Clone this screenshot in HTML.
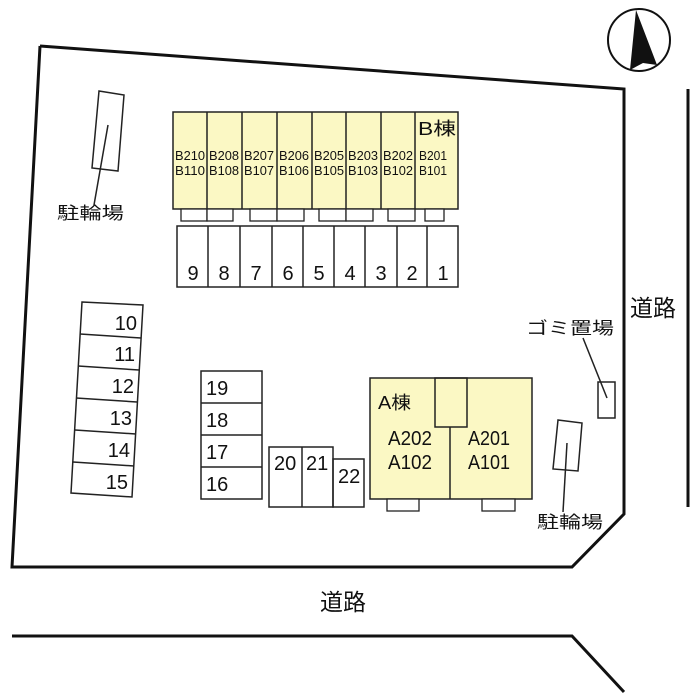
<!DOCTYPE html>
<html><head><meta charset="utf-8"><style>
body{margin:0;background:#fff}
svg{display:block}
text{font-family:"Liberation Sans","Noto Sans CJK JP",sans-serif;fill:#111}
.n{font-size:20px}
.u{font-size:13px;fill:#555}
.j{font-size:17px}
</style></head><body>
<svg width="700" height="700" viewBox="0 0 700 700" xmlns="http://www.w3.org/2000/svg">
<g fill="none" stroke="#111" stroke-width="3">
<polyline points="40,46 624,89 624,514 572,567 12,567 40,46"/>
<line x1="688" y1="89" x2="688" y2="507"/>
<polyline points="12,636 572,636 624,692"/>
</g>
<circle cx="639" cy="40" r="31" fill="none" stroke="#111" stroke-width="2"/>
<polygon points="636,10 630,70 643,63 657,65" fill="#111"/>
<rect x="173" y="112" width="285" height="97" fill="#fbf8c4" stroke="#222" stroke-width="1.5"/>
<g stroke="#222" stroke-width="1.5">
<line x1="207" y1="112" x2="207" y2="209"/><line x1="242" y1="112" x2="242" y2="209"/>
<line x1="277" y1="112" x2="277" y2="209"/><line x1="312" y1="112" x2="312" y2="209"/>
<line x1="346" y1="112" x2="346" y2="209"/><line x1="381" y1="112" x2="381" y2="209"/>
<line x1="415" y1="112" x2="415" y2="209"/>
</g>
<g fill="#fff" stroke="#222" stroke-width="1.3">
<rect x="181" y="209" width="26" height="12"/><rect x="207" y="209" width="26" height="12"/>
<rect x="250" y="209" width="27" height="12"/><rect x="277" y="209" width="27" height="12"/>
<rect x="319" y="209" width="27" height="12"/><rect x="346" y="209" width="27" height="12"/>
<rect x="388" y="209" width="27" height="12"/><rect x="425" y="209" width="19" height="12"/>
</g>
<text x="418" y="135" style="font-size:18px" textLength="38" lengthAdjust="spacingAndGlyphs">B棟</text>
<g class="u">
<text x="175" y="160" textLength="30" lengthAdjust="spacingAndGlyphs">B210</text><text x="175" y="175" textLength="30" lengthAdjust="spacingAndGlyphs">B110</text>
<text x="209" y="160" textLength="30" lengthAdjust="spacingAndGlyphs">B208</text><text x="209" y="175" textLength="30" lengthAdjust="spacingAndGlyphs">B108</text>
<text x="244" y="160" textLength="30" lengthAdjust="spacingAndGlyphs">B207</text><text x="244" y="175" textLength="30" lengthAdjust="spacingAndGlyphs">B107</text>
<text x="279" y="160" textLength="30" lengthAdjust="spacingAndGlyphs">B206</text><text x="279" y="175" textLength="30" lengthAdjust="spacingAndGlyphs">B106</text>
<text x="314" y="160" textLength="30" lengthAdjust="spacingAndGlyphs">B205</text><text x="314" y="175" textLength="30" lengthAdjust="spacingAndGlyphs">B105</text>
<text x="348" y="160" textLength="30" lengthAdjust="spacingAndGlyphs">B203</text><text x="348" y="175" textLength="30" lengthAdjust="spacingAndGlyphs">B103</text>
<text x="383" y="160" textLength="30" lengthAdjust="spacingAndGlyphs">B202</text><text x="383" y="175" textLength="30" lengthAdjust="spacingAndGlyphs">B102</text>
<text x="419" y="160" textLength="28" lengthAdjust="spacingAndGlyphs">B201</text><text x="419" y="175" textLength="28" lengthAdjust="spacingAndGlyphs">B101</text>
</g>
<rect x="177" y="226" width="281" height="61" fill="none" stroke="#222" stroke-width="1.5"/>
<g stroke="#222" stroke-width="1.5">
<line x1="208" y1="226" x2="208" y2="287"/><line x1="240" y1="226" x2="240" y2="287"/>
<line x1="272" y1="226" x2="272" y2="287"/><line x1="303" y1="226" x2="303" y2="287"/>
<line x1="334" y1="226" x2="334" y2="287"/><line x1="365" y1="226" x2="365" y2="287"/>
<line x1="397" y1="226" x2="397" y2="287"/><line x1="427" y1="226" x2="427" y2="287"/>
</g>
<g class="n" text-anchor="middle">
<text x="193" y="280">9</text><text x="224" y="280">8</text><text x="256" y="280">7</text>
<text x="288" y="280">6</text><text x="319" y="280">5</text><text x="350" y="280">4</text>
<text x="381" y="280">3</text><text x="412" y="280">2</text><text x="443" y="280">1</text>
</g>
<polygon points="82,302 143,305 132,497 71,493" fill="none" stroke="#222" stroke-width="1.5"/>
<g stroke="#222" stroke-width="1.5">
<line x1="80" y1="334" x2="141" y2="338"/><line x1="78" y1="366" x2="139" y2="370"/>
<line x1="76" y1="398" x2="137" y2="402"/><line x1="75" y1="430" x2="136" y2="434"/>
<line x1="73" y1="462" x2="134" y2="466"/>
</g>
<g class="n" text-anchor="end">
<text x="137" y="330">10</text><text x="135" y="361">11</text><text x="134" y="393">12</text>
<text x="132" y="425">13</text><text x="130" y="457">14</text><text x="128" y="489">15</text>
</g>
<rect x="201" y="371" width="61" height="128" fill="none" stroke="#222" stroke-width="1.5"/>
<g stroke="#222" stroke-width="1.5">
<line x1="201" y1="403" x2="262" y2="403"/><line x1="201" y1="435" x2="262" y2="435"/><line x1="201" y1="467" x2="262" y2="467"/>
</g>
<g class="n">
<text x="206" y="395">19</text><text x="206" y="427">18</text><text x="206" y="459">17</text><text x="206" y="491">16</text>
</g>
<g fill="none" stroke="#222" stroke-width="1.5">
<rect x="269" y="447" width="64" height="60"/><line x1="302" y1="447" x2="302" y2="507"/>
<rect x="333" y="459" width="31" height="48"/>
</g>
<g class="n">
<text x="274" y="470">20</text><text x="306" y="470">21</text><text x="338" y="483">22</text>
</g>
<rect x="370" y="378" width="162" height="121" fill="#fbf8c4" stroke="#222" stroke-width="1.5"/>
<g fill="none" stroke="#222" stroke-width="1.5">
<line x1="450" y1="427" x2="450" y2="499"/>
<rect x="435" y="378" width="32" height="49"/>
</g>
<g fill="#fff" stroke="#222" stroke-width="1.3">
<rect x="387" y="499" width="32" height="12"/><rect x="482" y="499" width="33" height="12"/>
</g>
<text x="378" y="409" style="font-size:18px" textLength="33" lengthAdjust="spacingAndGlyphs">A棟</text>
<g class="n">
<text x="388" y="445" textLength="44" lengthAdjust="spacingAndGlyphs">A202</text><text x="388" y="469" textLength="44" lengthAdjust="spacingAndGlyphs">A102</text>
<text x="468" y="445" textLength="42" lengthAdjust="spacingAndGlyphs">A201</text><text x="468" y="469" textLength="42" lengthAdjust="spacingAndGlyphs">A101</text>
</g>
<g fill="none" stroke="#222" stroke-width="1.5">
<polygon points="99,91 124,95 118,171 92,168"/>
<line x1="108" y1="125" x2="94" y2="205"/>
<polygon points="558,420 582,423 578,471 553,469"/>
<line x1="567" y1="443" x2="563" y2="512"/>
<rect x="598" y="382" width="17" height="36"/>
<line x1="583" y1="338" x2="607" y2="398"/>
</g>
<g class="j">
<text x="57" y="219" textLength="67" lengthAdjust="spacingAndGlyphs">駐輪場</text>
<text x="537" y="528" textLength="66" lengthAdjust="spacingAndGlyphs">駐輪場</text>
<text x="526" y="334" textLength="88" lengthAdjust="spacingAndGlyphs">ゴミ置場</text>
</g>
<text x="630" y="316" style="font-size:23px">道路</text>
<text x="320" y="610" style="font-size:23px">道路</text>
</svg>
</body></html>
